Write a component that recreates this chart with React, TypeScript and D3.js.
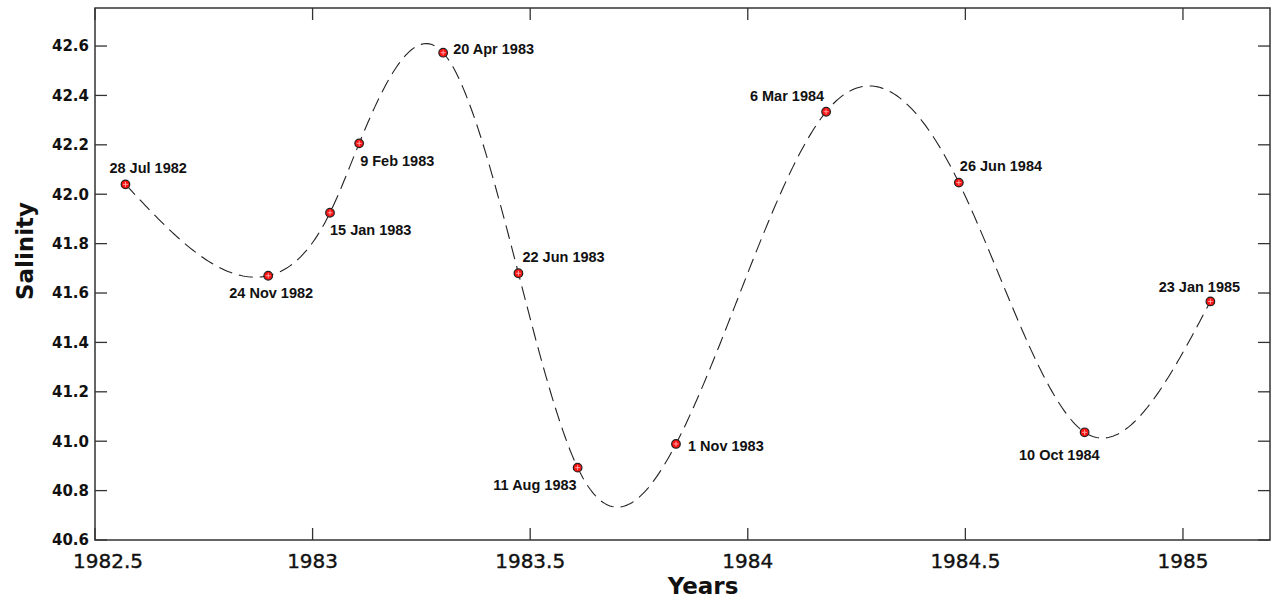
import React from "react";
import * as d3 from "d3";

const sampleDates = ["28 Jul 1982","24 Nov 1982","15 Jan 1983","9 Feb 1983","20 Apr 1983","22 Jun 1983","11 Aug 1983","1 Nov 1983","6 Mar 1984","26 Jun 1984","10 Oct 1984","23 Jan 1985"];
const sampleYears = [1982.570, 1982.898, 1983.040, 1983.107, 1983.300, 1983.473, 1983.609, 1983.835, 1984.180, 1984.485, 1984.774, 1985.063];
const salinity = [42.04, 41.67, 41.925, 42.206, 42.573, 41.68, 40.893, 40.989, 42.334, 42.047, 41.036, 41.566];
const xTicks = [1982.5, 1983, 1983.5, 1984, 1984.5, 1985];
const yTicks = [40.6, 40.8, 41.0, 41.2, 41.4, 41.6, 41.8, 42.0, 42.2, 42.4, 42.6];

// label placement: anchor, dx, dy (layout only)
const labelPlacement: [string, number, number][] = [
  ["start", -16, -11],
  ["middle", 3, 22],
  ["start", 0, 22],
  ["start", 1, 23],
  ["start", 10, 1],
  ["start", 4, -11],
  ["end", -1, 22],
  ["start", 12, 7],
  ["end", -2, -11],
  ["start", 1, -12],
  ["end", 15, 28],
  ["middle", -11, -9],
];

function naturalSpline(xs: number[], ys: number[]) {
  const n = xs.length;
  const h = [] as number[];
  for (let i = 0; i < n - 1; i++) h.push(xs[i + 1] - xs[i]);
  const a = new Array(n).fill(0), b = new Array(n).fill(0), c = new Array(n).fill(0), r = new Array(n).fill(0);
  b[0] = 1; b[n - 1] = 1;
  for (let i = 1; i < n - 1; i++) {
    a[i] = h[i - 1];
    b[i] = 2 * (h[i - 1] + h[i]);
    c[i] = h[i];
    r[i] = 6 * ((ys[i + 1] - ys[i]) / h[i] - (ys[i] - ys[i - 1]) / h[i - 1]);
  }
  const cp = new Array(n).fill(0), rp = new Array(n).fill(0);
  cp[0] = c[0] / b[0]; rp[0] = r[0] / b[0];
  for (let i = 1; i < n; i++) {
    const m = b[i] - a[i] * cp[i - 1];
    cp[i] = c[i] / m;
    rp[i] = (r[i] - a[i] * rp[i - 1]) / m;
  }
  const M = new Array(n).fill(0);
  M[n - 1] = rp[n - 1];
  for (let i = n - 2; i >= 0; i--) M[i] = rp[i] - cp[i] * M[i + 1];
  return (x: number) => {
    let i = 0;
    while (i < n - 2 && x > xs[i + 1]) i++;
    const hi = h[i];
    const t1 = xs[i + 1] - x, t0 = x - xs[i];
    return (M[i] * t1 * t1 * t1) / (6 * hi) + (M[i + 1] * t0 * t0 * t0) / (6 * hi)
      + (ys[i] / hi - (M[i] * hi) / 6) * t1 + (ys[i + 1] / hi - (M[i + 1] * hi) / 6) * t0;
  };
}

export default function App() {
  const W = 1277, H = 601;
  const left = 95, right = 1270, top = 8, bottom = 540;
  const x = d3.scaleLinear().domain([1982.5, 1985.2]).range([left, right]);
  const y = d3.scaleLinear().domain([40.6, 42.754]).range([bottom, top]);
  const f = naturalSpline(sampleYears, salinity);
  const x0 = sampleYears[0], x1 = sampleYears[sampleYears.length - 1];
  const curvePts: [number, number][] = d3.range(0, 601).map((k) => {
    const xv = x0 + ((x1 - x0) * k) / 600;
    return [xv, f(xv)];
  });
  const line = d3.line<[number, number]>().x((d) => x(d[0])).y((d) => y(d[1]));
  const tickFont = "'DejaVu Sans', Verdana, sans-serif";
  const labFont = "'Liberation Sans', Arial, sans-serif";
  const tickLen = 12;
  return (
    <svg width={W} height={H} style={{ position: "absolute", left: 0, top: 0, background: "#fff" }}>
      <rect x={0} y={0} width={W} height={H} fill="#fff" />
      <path d={line(curvePts) || ""} fill="none" stroke="#222" strokeWidth={1.1} strokeDasharray="14,7" />
      <rect x={left} y={top} width={right - left} height={bottom - top} fill="none" stroke="#333" strokeWidth={1.5} />
      {yTicks.map((t) => (
        <g key={"y" + t}>
          <line x1={left} x2={left + tickLen} y1={y(t)} y2={y(t)} stroke="#333" strokeWidth={1.3} />
          <line x1={right} x2={right - tickLen} y1={y(t)} y2={y(t)} stroke="#333" strokeWidth={1.3} />
          <text x={left - 6} y={y(t)} dy="0.36em" textAnchor="end" fontFamily={tickFont} fontWeight="bold" fontSize={15} fill="#111">
            {t.toFixed(1)}
          </text>
        </g>
      ))}
      {xTicks.map((t, i) => (
        <g key={"x" + t}>
          <line x1={x(t)} x2={x(t)} y1={bottom} y2={bottom - tickLen} stroke="#333" strokeWidth={1.3} />
          <line x1={x(t)} x2={x(t)} y1={top} y2={top + tickLen} stroke="#333" strokeWidth={1.3} />
          <text x={x(t) + (i === 0 ? 13 : 0)} y={568} textAnchor="middle" fontFamily={tickFont} fontSize={20} fill="#111" stroke="#111" strokeWidth={0.4}>
            {String(t)}
          </text>
        </g>
      ))}
      <text x={703} y={594} textAnchor="middle" fontFamily={tickFont} fontWeight="bold" fontSize={23} fill="#111">Years</text>
      <text transform={`translate(33,251) rotate(-90)`} textAnchor="middle" fontFamily={tickFont} fontWeight="bold" fontSize={23} fill="#111">Salinity</text>
      {sampleYears.map((yr, i) => {
        const px = x(yr), py = y(salinity[i]);
        const [anchor, dx, dy] = labelPlacement[i];
        return (
          <g key={"p" + i}>
            <circle cx={px} cy={py} r={4.3} fill="#ff1010" stroke="#222" strokeWidth={1.2} />
            <line x1={px - 2.5} x2={px + 2.5} y1={py} y2={py} stroke="#ffb0b0" strokeWidth={0.9} />
            <line x1={px} x2={px} y1={py - 2.5} y2={py + 2.5} stroke="#ffb0b0" strokeWidth={0.9} />
            <text x={px + dx} y={py + dy} textAnchor={anchor} fontFamily={labFont} fontWeight="bold" fontSize={14.5} fill="#111">
              {sampleDates[i]}
            </text>
          </g>
        );
      })}
    </svg>
  );
}
